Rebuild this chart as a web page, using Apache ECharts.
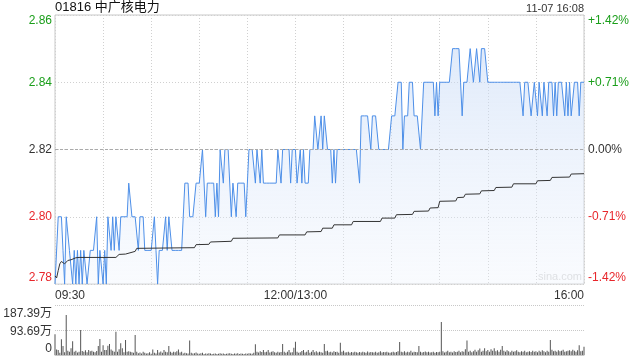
<!DOCTYPE html>
<html>
<head>
<meta charset="utf-8">
<script src="https://cdn.jsdelivr.net/npm/echarts@6/dist/echarts.min.js"></script>
<style>
html,body{margin:0;padding:0;background:#fff;}
#chart{width:640px;height:360px;}
</style>
</head>
<body>
<div id="chart"></div>
<script>
const stockTitle = '01816 中广核电力';
const stampText = '11-07 16:08';
const prevClose = 2.82;
const timeTickMinutes = [0, 150, 330];
const timeTickLabels = ['09:30', '12:00/13:00', '16:00'];
const pctTickLabels = ['-1.42%', '-0.71%', '0.00%', '+0.71%', '+1.42%'];
const volTickLabels = ['0', '93.69万', '187.39万'];

// one price per minute, 09:30 .. 12:00 | 13:01 .. 16:00
const prices = [
2.78,2.78,2.80,2.80,2.80,2.79,2.78,2.80,2.80,2.79,
2.79,2.78,2.79,2.78,2.79,2.78,2.79,2.78,2.79,2.79,
2.78,2.78,2.79,2.79,2.79,2.79,2.80,2.78,2.79,2.79,
2.78,2.79,2.78,2.80,2.80,2.79,2.80,2.79,2.80,2.80,
2.79,2.80,2.80,2.80,2.80,2.80,2.81,2.81,2.80,2.80,
2.80,2.80,2.79,2.80,2.80,2.80,2.79,2.79,2.79,2.79,
2.79,2.79,2.80,2.79,2.78,2.79,2.79,2.79,2.79,2.80,
2.79,2.80,2.80,2.79,2.79,2.79,2.79,2.79,2.79,2.79,
2.79,2.81,2.81,2.81,2.80,2.80,2.80,2.80,2.81,2.81,
2.81,2.81,2.82,2.82,2.80,2.81,2.81,2.81,2.81,2.81,
2.80,2.81,2.80,2.82,2.82,2.81,2.82,2.82,2.82,2.82,
2.80,2.81,2.81,2.80,2.81,2.81,2.81,2.81,2.81,2.80,
2.81,2.82,2.82,2.82,2.82,2.81,2.82,2.82,2.81,2.82,
2.81,2.81,2.81,2.81,2.81,2.81,2.81,2.81,2.81,2.82,
2.82,2.81,2.82,2.82,2.82,2.82,2.82,2.81,2.82,2.82,
2.82,2.81,2.81,2.82,2.81,2.82,2.81,2.81,2.81,2.82,
2.82,2.82,2.83,2.83,2.82,2.82,2.83,2.82,2.83,2.83,
2.82,2.82,2.82,2.81,2.82,2.81,2.82,2.82,2.82,2.82,
2.82,2.82,2.82,2.82,2.82,2.82,2.82,2.82,2.82,2.82,
2.81,2.83,2.83,2.83,2.83,2.83,2.83,2.82,2.83,2.83,
2.83,2.83,2.82,2.82,2.82,2.82,2.82,2.82,2.82,2.82,
2.83,2.83,2.83,2.83,2.84,2.84,2.84,2.82,2.83,2.83,
2.83,2.84,2.84,2.84,2.83,2.83,2.83,2.83,2.82,2.82,
2.84,2.84,2.84,2.84,2.84,2.84,2.84,2.83,2.84,2.83,
2.84,2.84,2.84,2.84,2.84,2.84,2.84,2.84,2.85,2.85,
2.85,2.85,2.85,2.84,2.83,2.84,2.84,2.84,2.84,2.85,
2.85,2.84,2.84,2.85,2.85,2.84,2.85,2.85,2.85,2.85,
2.84,2.84,2.84,2.84,2.84,2.84,2.84,2.84,2.84,2.84,
2.84,2.84,2.84,2.84,2.84,2.84,2.84,2.84,2.84,2.84,
2.84,2.84,2.83,2.84,2.84,2.84,2.84,2.83,2.83,2.84,
2.84,2.83,2.84,2.84,2.83,2.84,2.84,2.83,2.84,2.84,
2.84,2.83,2.84,2.83,2.84,2.84,2.84,2.84,2.83,2.84,
2.83,2.84,2.83,2.83,2.84,2.84,2.84,2.83,2.84,2.84,2.84
];

// average price, read at the minutes where it changes: [minute, price]
const avgPoints = [
[0,2.7824],[1,2.7818],[2,2.7840],[3,2.7860],[4,2.7867],[5,2.7862],[6,2.7860],[7,2.7862],
[8,2.7870],[10,2.7872],[11,2.7874],[13,2.7878],[14,2.7876],[15,2.7879],[38,2.7879],
[39,2.7884],[40,2.7888],[44,2.7889],[45,2.7894],[50,2.7897],[51,2.7906],[52,2.7908],
[87,2.7908],[88,2.7917],[96,2.7918],[97,2.7925],[110,2.7927],[111,2.7936],[139,2.7937],
[140,2.7946],[156,2.7946],[157,2.7955],[166,2.7956],[167,2.7966],[173,2.7966],[174,2.7976],
[185,2.7976],[186,2.7986],[203,2.7986],[204,2.7996],[212,2.7996],[213,2.8006],[223,2.8007],
[224,2.8016],[233,2.8017],[234,2.8026],[239,2.8027],[240,2.8046],[250,2.8047],[251,2.8057],
[255,2.8058],[256,2.8067],[265,2.8068],[266,2.8077],[274,2.8078],[275,2.8087],[285,2.8088],
[286,2.8098],[300,2.8098],[301,2.8107],[309,2.8108],[310,2.8117],[321,2.8118],[322,2.8127],
[330,2.8128]
];

// volume per minute, in 万
const volumes = [
78,21,19,8,59,34,10,150,16,12,
25,52,12,16,9,12,94,15,12,18,
10,19,14,16,12,10,15,34,60,12,
37,19,19,35,41,21,16,12,87,12,
22,44,25,10,56,12,14,12,10,8,
75,12,7,9,6,12,8,6,7,10,
5,21,8,6,19,9,13,8,19,12,
10,34,12,8,12,10,14,21,9,12,
6,8,7,6,54,8,6,7,9,6,
5,7,8,4,6,5,7,6,4,5,
6,4,5,7,5,6,4,5,6,7,
5,4,6,5,7,4,6,5,4,6,
5,7,6,5,8,40,12,9,14,11,
19,10,12,19,9,12,14,10,8,12,
9,11,41,12,8,12,19,9,10,27,
50,12,8,10,15,19,9,12,19,8,
12,19,10,14,9,12,10,8,41,14,
16,10,12,9,14,11,12,8,46,12,
16,9,10,12,8,11,9,12,10,8,
11,9,12,10,8,13,9,11,10,9,
12,8,10,14,9,11,10,12,9,8,
10,12,9,11,14,49,12,10,14,9,
12,10,16,9,12,11,10,34,12,9,
11,13,10,12,9,10,12,8,11,10,
12,124,14,9,12,16,10,12,9,14,
11,12,16,10,14,12,22,54,12,16,
10,14,20,12,18,24,12,16,25,14,
19,12,22,16,25,14,18,12,20,34,
16,12,18,14,10,16,12,14,18,12,
10,14,12,16,10,12,14,11,16,12,
14,10,16,12,18,14,10,16,12,56,
20,14,16,12,18,14,16,20,12,14,
16,18,14,20,16,12,18,37,14,16,
31
];

const FONT = '"Liberation Sans", Arial, "Noto Sans CJK SC", sans-serif';
const GREEN = '#1a9e1a', RED = '#e8262b', DARK = '#333';
const priceColor = v => { v = parseFloat(v); return v > prevClose + 1e-6 ? GREEN : (v < prevClose - 1e-6 ? RED : DARK); };

const chart = echarts.init(document.getElementById('chart'), null, {renderer: 'canvas'});
const priceData = prices.map((p, i) => [i, p]);
const volData = volumes.map((v, i) => [i, v]);

chart.setOption({
  animation: false,
  textStyle: {fontFamily: FONT},
  grid: [
    {left: 55, top: 15, width: 529, height: 269, show: true, borderColor: '#c8c8c8', borderWidth: 1, backgroundColor: 'transparent'},
    {left: 55, top: 305, width: 529, height: 50, show: true, borderColor: '#c8c8c8', borderWidth: 0}
  ],
  xAxis: [
    {
      type: 'value', gridIndex: 0, min: 0, max: 330, interval: 30,
      axisLine: {show: false}, axisTick: {show: false},
      splitLine: {show: true, lineStyle: {color: '#d0d0d0', type: [1, 2], width: 1}},
      axisLabel: {
        show: true, margin: 6, fontSize: 12, color: '#333', fontFamily: FONT,
        alignMinLabel: 'left', alignMaxLabel: 'right',
        formatter: v => { const k = timeTickMinutes.indexOf(Math.round(v)); return k >= 0 ? timeTickLabels[k] : ''; }
      }
    },
    {
      type: 'value', gridIndex: 1, min: 0, max: 330, interval: 30,
      axisLine: {show: true, lineStyle: {color: '#c8c8c8'}}, axisTick: {show: false},
      splitLine: {show: false}, axisLabel: {show: false}
    }
  ],
  yAxis: [
    {
      type: 'value', gridIndex: 0, min: 2.78, max: 2.86, interval: 0.02, position: 'left',
      axisLine: {show: false}, axisTick: {show: false},
      splitLine: {show: true, lineStyle: {color: '#d0d0d0', type: [1, 2]}},
      axisLabel: {
        margin: 3, fontSize: 12, fontFamily: FONT,
        verticalAlignMinLabel: 'bottom', verticalAlignMaxLabel: 'top',
        color: priceColor,
        formatter: v => Number(v).toFixed(2)
      }
    },
    {
      type: 'value', gridIndex: 0, min: 2.78, max: 2.86, interval: 0.02, position: 'right',
      axisLine: {show: false}, axisTick: {show: false}, splitLine: {show: false},
      axisLabel: {
        margin: 4, fontSize: 12, fontFamily: FONT,
        verticalAlignMinLabel: 'bottom', verticalAlignMaxLabel: 'top',
        color: priceColor,
        formatter: (v, i) => pctTickLabels[i]
      }
    },
    {
      type: 'value', gridIndex: 1, min: 0, max: 187.39, interval: 93.695, position: 'left',
      axisLine: {show: false}, axisTick: {show: false},
      splitLine: {show: true, lineStyle: {color: '#c8c8c8', type: [1, 1]}},
      axisLabel: {
        margin: 3, fontSize: 12, color: '#333', fontFamily: FONT,
        verticalAlignMinLabel: 'bottom', verticalAlignMaxLabel: 'top',
        formatter: (v, i) => i === 2 ? '{t|' + volTickLabels[i] + '}' : (i === 1 ? '{m|' + volTickLabels[i] + '}' : volTickLabels[i]),
        rich: {
          t: {fontSize: 12, color: '#333', fontFamily: FONT, padding: [3, 0, 0, 0]},
          m: {fontSize: 12, color: '#333', fontFamily: FONT, padding: [3, 0, 0, 0]}
        }
      }
    }
  ],
  series: [
    {
      type: 'line', xAxisIndex: 0, yAxisIndex: 0, data: priceData, showSymbol: false,
      lineStyle: {color: '#4d8fe8', width: 1}, itemStyle: {color: '#4d8fe8'},
      areaStyle: {
        origin: 'start',
        color: new echarts.graphic.LinearGradient(0, 0, 0, 1, [
          {offset: 0, color: 'rgba(196,216,246,0.75)'},
          {offset: 1, color: 'rgba(236,242,252,0.45)'}
        ])
      },
      markLine: {
        symbol: 'none', silent: true, label: {show: false},
        lineStyle: {color: '#aaaaaa', type: [3, 2], width: 1},
        data: [{yAxis: prevClose}]
      },
      z: 3
    },
    {
      type: 'line', xAxisIndex: 0, yAxisIndex: 0, data: avgPoints, showSymbol: false,
      lineStyle: {color: '#333', width: 1}, itemStyle: {color: '#333'}, z: 4
    },
    {
      type: 'bar', xAxisIndex: 1, yAxisIndex: 2, data: volData, barWidth: 1,
      itemStyle: {color: '#555'}, large: false
    }
  ],
  graphic: [
    {type: 'text', left: 55, top: 1, style: {text: stockTitle, fontSize: 13, fill: '#111', fontFamily: FONT}},
    {type: 'text', right: 56, top: 3, style: {text: stampText, fontSize: 11, fill: '#333', fontFamily: FONT}},
    {type: 'text', right: 58, top: 271, style: {text: 'sina.com', fontSize: 11, fill: '#d8d8d8', fontFamily: FONT}}
  ]
});
</script>
</body>
</html>
